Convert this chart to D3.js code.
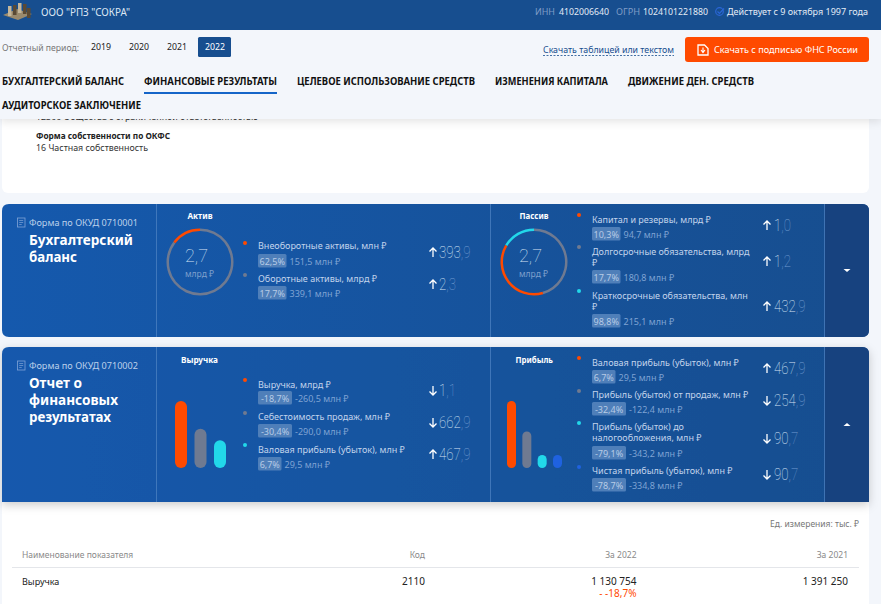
<!DOCTYPE html>
<html lang="ru">
<head>
<meta charset="utf-8">
<title>ООО "РПЗ "СОКРА"</title>
<script src="https://cdnjs.cloudflare.com/ajax/libs/d3/7.8.5/d3.min.js"></script>
<style>
  html, body { margin: 0; padding: 0; background: #f3f6fb; overflow: hidden; }
  svg { display: block; font-family: "Noto Sans", Roboto, sans-serif; }
</style>
</head>
<body>
<div id="chart"></div>
<script>
// Data
const years = ["2019", "2020", "2021", "2022"];
const tabs = ["БУХГАЛТЕРСКИЙ БАЛАНС", "ФИНАНСОВЫЕ РЕЗУЛЬТАТЫ", "ЦЕЛЕВОЕ ИСПОЛЬЗОВАНИЕ СРЕДСТВ", "ИЗМЕНЕНИЯ КАПИТАЛА", "ДВИЖЕНИЕ ДЕН. СРЕДСТВ", "АУДИТОРСКОЕ ЗАКЛЮЧЕНИЕ"];

// donut values, bln, in clockwise order from the top
const aktivDonutNames = ["Оборотные", "Внеоборотные"];
const aktivDonutValues = [2.3, 0.3939];
const passivDonutNames = ["Долгосрочные", "Капитал", "Краткосрочные"];
const passivDonutValues = [1.2, 1.0, 0.4329];

// bars, mln
const revenueBarNames = ["Выручка", "Себестоимость", "Валовая прибыль"];
const revenueBarValues = [1130.754, 662.9, 467.9];
const profitBarNames = ["Валовая прибыль", "От продаж", "До налогообложения", "Чистая прибыль"];
const profitBarValues = [467.9, 254.9, 90.7, 90.7];

const aktivLabels = [["Внеоборотные активы, млн ₽"], ["Оборотные активы, млрд ₽"]];
const aktivPct = ["62,5%", "17,7%"];
const aktivDelta = ["151,5 млн ₽", "339,1 млн ₽"];
const aktivNums = ["393,9", "2,3"];
const aktivUp = [true, true];

const passivLabels = [["Капитал и резервы, млрд ₽"], ["Долгосрочные обязательства, млрд", "₽"], ["Краткосрочные обязательства, млн", "₽"]];
const passivPct = ["10,3%", "17,7%", "98,8%"];
const passivDelta = ["94,7 млн ₽", "180,8 млн ₽", "215,1 млн ₽"];
const passivNums = ["1,0", "1,2", "432,9"];
const passivUp = [true, true, true];

const revenueLabels = [["Выручка, млрд ₽"], ["Себестоимость продаж, млн ₽"], ["Валовая прибыль (убыток), млн ₽"]];
const revenuePct = ["-18,7%", "-30,4%", "6,7%"];
const revenueDelta = ["-260,5 млн ₽", "-290,0 млн ₽", "29,5 млн ₽"];
const revenueNums = ["1,1", "662,9", "467,9"];
const revenueUp = [false, false, true];

const profitLabels = [["Валовая прибыль (убыток), млн ₽"], ["Прибыль (убыток) от продаж, млн ₽"], ["Прибыль (убыток) до", "налогообложения, млн ₽"], ["Чистая прибыль (убыток), млн ₽"]];
const profitPct = ["6,7%", "-32,4%", "-79,1%", "-78,7%"];
const profitDelta = ["29,5 млн ₽", "-122,4 млн ₽", "-343,2 млн ₽", "-334,8 млн ₽"];
const profitNums = ["467,9", "254,9", "90,7", "90,7"];
const profitUp = [true, false, false, false];

const tableHeader = ["Наименование показателя", "Код", "За 2022", "За 2021"];
const tableRow = ["Выручка", "2110", "1 130 754", "1 391 250"];

// Colours
const orange = "#ff4a00", gray = "#6f7a91", cyan = "#22d8ea", blue = "#1f62e0";
const navy = "#174e8f";
const seriesColors = [orange, gray, cyan, blue];

const svg = d3.select("#chart").append("svg").attr("width", 881).attr("height", 604);
const defs = svg.append("defs");

const grad = defs.append("linearGradient").attr("id", "cardFill");
grad.append("stop").attr("offset", "0%").attr("stop-color", "#1559ad");
grad.append("stop").attr("offset", "100%").attr("stop-color", "#174e8f");

const addShadow = (id, blur, op) => defs.append("filter").attr("id", id)
    .attr("x", "-5%").attr("y", "-20%").attr("width", "110%").attr("height", "150%")
    .append("feDropShadow").attr("dx", 0).attr("dy", 3).attr("stdDeviation", blur)
    .attr("flood-color", "#000").attr("flood-opacity", op);
addShadow("navShadow", 4, 0.1);
addShadow("cardShadow", 5, 0.2);

// Text helper, w forces the width of the string
function label(x, y, str, o = {}) {
    const t = (o.g || svg).append("text")
        .attr("x", x).attr("y", y)
        .attr("font-size", o.size || 9.5)
        .attr("fill", o.fill || "#222")
        .attr("font-weight", o.weight || 400)
        .attr("text-anchor", o.anchor || "start")
        .text(str);
    if (o.w) t.attr("textLength", o.w).attr("lengthAdjust", "spacingAndGlyphs");
    if (o.ls) t.attr("letter-spacing", o.ls);
    if (o.family) t.attr("font-family", o.family);
    return t;
}

// White card behind the nav
svg.append("rect").attr("x", 2).attr("y", 100).attr("width", 867).attr("height", 93).attr("rx", 6).attr("fill", "#fff");
label(36, 120, "12300 Общества с ограниченной ответственностью", { size: 9, w: 222, fill: "#333" });
label(36, 139, "Форма собственности по ОКФС", { size: 9, weight: 700, w: 134 });
label(36, 151, "16 Частная собственность", { size: 9, w: 112, fill: "#333" });

// Nav band
svg.append("rect").attr("x", 0).attr("y", 30).attr("width", 881).attr("height", 89).attr("fill", "#f3f6fb").attr("filter", "url(#navShadow)");

// Top bar
svg.append("rect").attr("x", 0).attr("y", 0).attr("width", 881).attr("height", 30).attr("fill", navy);
const logo = svg.append("g");
logo.append("path").attr("d", "M3 15 L17 9 L32 14 L18 20 Z").attr("fill", "#9a8a6d");
[[8, 6], [13, 5], [18, 3], [23, 4], [27, 8]].forEach(p => {
    logo.append("rect").attr("x", p[0]).attr("y", p[1]).attr("width", 3.5).attr("height", 10).attr("fill", p[0] % 2 ? "#5b4a34" : "#c5b79b");
});
label(41, 16, 'ООО "РПЗ "СОКРА"', { size: 10, fill: "#dce6f4", w: 89 });
label(535, 15, "ИНН", { size: 9, fill: "#7f9cc6", w: 20 });
label(559, 15, "4102006640", { size: 9, fill: "#e3ebf6", w: 50 });
label(616, 15, "ОГРН", { size: 9, fill: "#7f9cc6", w: 24 });
label(643, 15, "1024101221880", { size: 9, fill: "#e3ebf6", w: 65 });
svg.append("circle").attr("cx", 719.5).attr("cy", 11.5).attr("r", 3.8).attr("fill", "none").attr("stroke", "#2a66d6").attr("stroke-width", 1.2);
svg.append("path").attr("d", "M717.5 11.5 L719.5 13.5 L724 8.5").attr("fill", "none").attr("stroke", "#2a66d6").attr("stroke-width", 1.2);
label(727, 15, "Действует с 9 октября 1997 года", { size: 9, fill: "#e3ebf6", w: 141 });

// Period selector
label(2, 51, "Отчетный период:", { size: 9, fill: "#777", w: 77 });
svg.append("rect").attr("x", 198).attr("y", 37).attr("width", 33).attr("height", 20).attr("rx", 1.5).attr("fill", navy);
years.forEach((y, i) => label(91 + i * 38, 50, y, { size: 9, w: 20, fill: i === 3 ? "#fff" : "#222" }));

// Download
label(543, 53, "Скачать таблицей или текстом", { size: 9, fill: navy, w: 131 });
svg.append("line").attr("x1", 543).attr("x2", 674).attr("y1", 55.5).attr("y2", 55.5).attr("stroke", navy).attr("stroke-width", 0.8).attr("stroke-dasharray", "2 1.5");
svg.append("rect").attr("x", 685).attr("y", 37).attr("width", 184).attr("height", 25).attr("rx", 3).attr("fill", orange);
svg.append("path").attr("d", "M698 45 H704.5 L708 48.5 V55 H698 Z").attr("fill", "none").attr("stroke", "#fff").attr("stroke-width", 1.3);
svg.append("path").attr("d", "M703 47.5 V51.5 M701 50 L703 52.5 L705 50").attr("fill", "none").attr("stroke", "#fff").attr("stroke-width", 1.1);
label(714, 53, "Скачать с подписью ФНС России", { size: 9.5, fill: "#fff", w: 144 });

// Tabs
const tabX = [2, 144, 297, 495, 628, 2], tabW = [122, 133, 178, 113, 126, 139];
tabs.forEach((t, i) => label(tabX[i], i === 5 ? 109 : 85, t, { size: 10, weight: 700, fill: "#111", w: tabW[i] }));
svg.append("rect").attr("x", 144).attr("y", 92).attr("width", 133).attr("height", 2).attr("fill", "#1565c8");

// Cards
function drawCard(top, h, squareBottom) {
    const r = 7, l = 2, rgt = 869, b = top + h, tabL = 824;
    const br = squareBottom ? 0 : r;
    const shape = (x0, x1, rl, rr) => `M${x0 + rl} ${top} H${x1 - rr} Q${x1} ${top} ${x1} ${top + rr} V${b - (rr ? br : 0)} Q${x1} ${b} ${x1 - (rr ? br : 0)} ${b} H${x0 + (rl ? br : 0)} Q${x0} ${b} ${x0} ${b - (rl ? br : 0)} V${top + rl} Q${x0} ${top} ${x0 + rl} ${top} Z`;
    svg.append("path").attr("d", shape(l, rgt, r, r)).attr("fill", "url(#cardFill)").attr("filter", squareBottom ? "url(#cardShadow)" : null);
    svg.append("path").attr("d", shape(tabL, rgt, 0, r)).attr("fill", "#17427f");
    [156.5, 490.5, 824.5].forEach(x => svg.append("line").attr("x1", x).attr("x2", x).attr("y1", top).attr("y2", b).attr("stroke", "#4a7fc0").attr("stroke-opacity", 0.8));
}

// White panel with the table goes under card 2 shadow
svg.append("rect").attr("x", 2).attr("y", 490).attr("width", 867).attr("height", 114).attr("fill", "#fff");

drawCard(204, 133, false);
drawCard(347, 155, true);

function docIcon(x, y) {
    svg.append("rect").attr("x", x).attr("y", y).attr("width", 7.5).attr("height", 9).attr("fill", "none").attr("stroke", "#7fa3d6").attr("stroke-width", 0.8);
    svg.append("path").attr("d", `M${x + 1.7} ${y + 2.5} h4 M${x + 1.7} ${y + 4.5} h4 M${x + 1.7} ${y + 6.5} h2.5`).attr("stroke", "#7fa3d6").attr("stroke-width", 0.7);
}
docIcon(17.5, 218);
docIcon(17.5, 361);
label(29, 226, "Форма по ОКУД 0710001", { size: 9.5, fill: "#bcd0ea", w: 109 });
label(29, 369, "Форма по ОКУД 0710002", { size: 9.5, fill: "#bcd0ea", w: 109 });
const headingOpts = { size: 14.5, weight: 700, fill: "#fff" };
label(29, 245, "Бухгалтерский", { ...headingOpts, w: 104 });
label(29, 262, "баланс", { ...headingOpts, w: 48 });
label(29, 388, "Отчет о", { ...headingOpts, w: 53 });
label(29, 405, "финансовых", { ...headingOpts, w: 89 });
label(29, 422, "результатах", { ...headingOpts, w: 82 });

const titleOpts = { size: 9, weight: 700, fill: "#fff" };
label(187.5, 219, "Актив", { ...titleOpts, w: 25 });
label(519.5, 219, "Пассив", { ...titleOpts, w: 29 });
label(181, 363, "Выручка", { ...titleOpts, w: 37 });
label(515.5, 363, "Прибыль", { ...titleOpts, w: 37.5 });

// Tab carets
svg.append("path").attr("d", "M843.5 269 h7 l-3.5 3 z").attr("fill", "#fff");
svg.append("path").attr("d", "M843.5 426 h7 l-3.5 -3 z").attr("fill", "#fff");

// Donuts
function drawDonut(cx, cy, values, colors, textX) {
    const pie = d3.pie().sort(null).value(d => d);
    const arc = d3.arc().innerRadius(31).outerRadius(33.5);
    const g = svg.append("g").attr("transform", `translate(${cx},${cy})`);
    g.selectAll("path").data(pie(values)).join("path")
        .attr("d", arc).attr("fill", (d, i) => colors[i]);
    bigText(textX, cy, "2,7", 18, 1);
    label(textX, cy + 15, "млрд ₽", { size: 9, fill: "#7fa0cd", w: 29 });
}

// Thin narrow figures, the decimals are dimmer
function bigText(x, y, str, size, sx) {
    const parts = str.split(",");
    const t = svg.append("text")
        .attr("transform", `translate(${x},${y}) scale(${sx},1)`)
        .attr("font-family", "Roboto, 'Noto Sans', sans-serif")
        .attr("font-weight", 100)
        .attr("font-size", size)
        .attr("fill", "#d5e2f3");
    t.append("tspan").text(parts[0]);
    t.append("tspan").attr("fill", sx === 1 ? "#d5e2f3" : "#6f9ad0").text("," + parts[1]);
}

drawDonut(200, 262, aktivDonutValues, [gray, orange], 185);
drawDonut(534, 262, passivDonutValues, [gray, orange, cyan], 519);

// Bars
function drawBars(x0, x1, pad, values, colors) {
    const x = d3.scaleBand().domain(values.map((d, i) => i)).range([x0, x1]).paddingInner(pad);
    const y = d3.scaleLinear().domain([0, d3.max(values)]).range([468, 401]);
    svg.append("g").selectAll("rect").data(values).join("rect")
        .attr("x", (d, i) => x(i))
        .attr("y", d => y(d))
        .attr("width", x.bandwidth())
        .attr("height", d => y(0) - y(d))
        .attr("rx", x.bandwidth() / 2)
        .attr("fill", (d, i) => colors[i]);
}
drawBars(175, 226, 0.385, revenueBarValues, seriesColors);
drawBars(507, 562, 0.413, profitBarValues, seriesColors);

// Legend rows
function arrow(x, y, up) {
    // y is the figure baseline
    const d = up
        ? `M${x} ${y} V${y - 9} M${x - 3.5} ${y - 5.5} L${x} ${y - 9} L${x + 3.5} ${y - 5.5}`
        : `M${x} ${y - 9} V${y} M${x - 3.5} ${y - 3.5} L${x} ${y} L${x + 3.5} ${y - 3.5}`;
    svg.append("path").attr("d", d).attr("fill", "none").attr("stroke", "#fff").attr("stroke-width", 1.3);
}

function drawRows(rows, labels, pct, delta, nums, ups, dotX, textX, arrowX, numX) {
    rows.forEach((r, i) => {
        svg.append("circle").attr("cx", dotX).attr("cy", r.dot).attr("r", 2).attr("fill", seriesColors[i]);
        labels[i].forEach((line, k) => label(textX, r.label + k * 11, line, { size: 9, fill: "#c3d4ec" }));
        const pillW = pct[i].length * 5 + (pct[i].length > 5 ? 4 : 3.5);
        svg.append("rect").attr("x", textX).attr("y", r.pill).attr("width", pillW).attr("height", 13.5).attr("rx", 1.5).attr("fill", "#4f7fb9");
        label(textX + pillW / 2, r.pill + 10.5, pct[i], { size: 9, fill: "#b7cbe6", anchor: "middle" });
        label(textX + pillW + 3, r.pill + 10.5, delta[i], { size: 9, fill: "#7fa3d3" });
        arrow(arrowX, r.num - 1, ups[i]);
        bigText(numX, r.num, nums[i], 17, 0.78);
    });
}

drawRows([{ dot: 243, label: 249, pill: 254, num: 258 }, { dot: 275, label: 282, pill: 286, num: 290 }],
    aktivLabels, aktivPct, aktivDelta, aktivNums, aktivUp, 245, 258, 433, 439);
drawRows([{ dot: 215, label: 223, pill: 227, num: 231 }, { dot: 247, label: 255, pill: 270, num: 267 }, { dot: 291, label: 299, pill: 314, num: 312 }],
    passivLabels, passivPct, passivDelta, passivNums, passivUp, 579, 592, 767, 774);
drawRows([{ dot: 380, label: 388, pill: 391, num: 396 }, { dot: 413, label: 420, pill: 424, num: 428 }, { dot: 445, label: 453, pill: 457, num: 460 }],
    revenueLabels, revenuePct, revenueDelta, revenueNums, revenueUp, 245, 258, 433, 439);
drawRows([{ dot: 358, label: 366, pill: 370, num: 374 }, { dot: 391, label: 398, pill: 402, num: 406 }, { dot: 423, label: 430, pill: 446, num: 444 }, { dot: 467, label: 474, pill: 478, num: 480 }],
    profitLabels, profitPct, profitDelta, profitNums, profitUp, 579, 592, 767, 774);

// Table
label(859, 527, "Ед. измерения: тыс. ₽", { size: 8.5, fill: "#777", anchor: "end" });
const colX = [22, 425, 636.5, 848];
tableHeader.forEach((h, i) => label(colX[i], 558, h, { size: 8.5, fill: "#8a8a8a", anchor: i ? "end" : "start" }));
svg.append("line").attr("x1", 12).attr("x2", 859).attr("y1", 567.5).attr("y2", 567.5).attr("stroke", "#e4e6ea");
tableRow.forEach((h, i) => label(colX[i], 585, h, { size: i ? 10 : 9, fill: "#222", anchor: i ? "end" : "start" }));
label(636.5, 597, "- -18,7%", { size: 10, fill: orange, anchor: "end" });
</script>
</body>
</html>
